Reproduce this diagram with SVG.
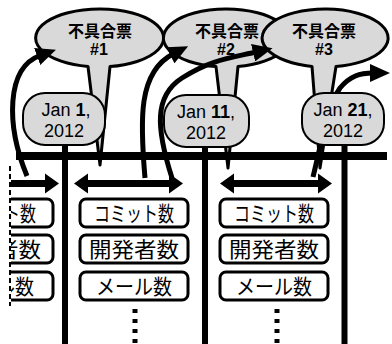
<svg xmlns="http://www.w3.org/2000/svg" width="392" height="344" viewBox="0 0 392 344">
<style>
.callout{fill:#d9d9d9;stroke:#000;stroke-width:3;stroke-linejoin:round}
.date{fill:#d9d9d9;stroke:#000;stroke-width:2}
.box{fill:#fff;stroke:#000;stroke-width:3}
.ct{font-family:"Liberation Sans","Noto Sans CJK JP",sans-serif;font-weight:bold;font-size:16px;text-anchor:middle;fill:#000}
.dt{font-family:"Liberation Sans",Arial,sans-serif;font-size:18px;text-anchor:middle;fill:#000}
.bt{font-family:"Noto Sans CJK JP",sans-serif;font-size:21px;text-anchor:middle;fill:#000}
.curve{fill:none;stroke:#000;stroke-width:5;marker-end:url(#ah)}
.vl{stroke:#000;stroke-width:6}
.dot{stroke:#000;stroke-width:5;stroke-dasharray:4 6}
</style>
<defs>
<marker id="ah" viewBox="0 0 20 18" refX="3" refY="9" markerWidth="20" markerHeight="18" orient="auto" markerUnits="userSpaceOnUse"><path d="M0,0 L20,9 L0,18 Z" fill="#000"/></marker>
<clipPath id="leftclip"><rect x="11" y="0" width="60" height="344"/></clipPath>
</defs>

<g id="ticket1">
<path class="callout" d="M88,66.5 A64,29 0 1 1 110,66.6 L100,165 Z"/>
<text class="ct" x="100" y="37">不具合票</text>
<text class="ct" x="99" y="55">#1</text>
</g>
<g id="ticket2">
<path class="callout" d="M216,66.6 A63,29 0 1 1 238,66.5 L228,168 Z"/>
<text class="ct" x="227" y="37">不具合票</text>
<text class="ct" x="226" y="55">#2</text>
</g>
<g id="ticket3">
<path class="callout" d="M312,66.4 A63,29 0 1 1 336,66.6 L320,168 Z"/>
<text class="ct" x="324" y="37">不具合票</text>
<text class="ct" x="324" y="55">#3</text>
</g>

<g id="connectors">
<rect x="16" y="152" width="371" height="8" fill="#000"/>
<line class="vl" x1="65" y1="140" x2="65" y2="344"/>
<line class="vl" x1="205" y1="140" x2="205" y2="344"/>
<line class="vl" x1="344.5" y1="140" x2="344.5" y2="344"/>
<line class="dot" x1="135" y1="309" x2="135" y2="344"/>
<line class="dot" x1="277" y1="309" x2="277" y2="344"/>
<path class="curve" d="M27,176 C6,125 6,68 40,55.5"/>
<path class="curve" d="M145,178 C140,120 138,72 173,54"/>
<path class="curve" d="M172,178 C156,128 154,96 182,78 S230,58 256,52"/>
<path class="curve" d="M313,177 C322,140 328,105 340,88 C350,76 360,73 373,73"/>
<path d="M74,183.5 L88,173.5 L88,180 L169,180 L169,173.5 L183,183.5 L169,193.5 L169,187 L88,187 L88,193.5 Z" fill="#000"/>
<path d="M220,183.5 L234,173.5 L234,180 L318,180 L318,173.5 L332,183.5 L318,193.5 L318,187 L234,187 L234,193.5 Z" fill="#000"/>
<g clip-path="url(#leftclip)">
<path d="M5,180 L45,180 L45,173.5 L59,183.5 L45,193.5 L45,187 L5,187 Z" fill="#000"/>
</g>
<line x1="10" y1="166" x2="10" y2="306" stroke="#000" stroke-width="2" stroke-dasharray="5 3"/>
</g>

<g id="date1">
<rect class="date" x="23" y="93" width="82" height="52" rx="22"/>
<text class="dt" x="66" y="116">Jan <tspan font-weight="bold">1</tspan>,</text>
<text class="dt" x="64" y="137">2012</text>
</g>
<g id="date2">
<rect class="date" x="164" y="95" width="85" height="52" rx="22"/>
<text class="dt" x="206" y="118">Jan <tspan font-weight="bold">11</tspan>,</text>
<text class="dt" x="206" y="139">2012</text>
</g>
<g id="date3">
<rect class="date" x="302" y="93" width="82" height="52" rx="22"/>
<text class="dt" x="343" y="116">Jan <tspan font-weight="bold">21</tspan>,</text>
<text class="dt" x="343" y="137">2012</text>
</g>

<g id="metrics0" clip-path="url(#leftclip)">
<rect class="box" x="-55" y="199" width="108" height="28" rx="6"/>
<text class="bt" x="-4" y="221" textLength="80" lengthAdjust="spacingAndGlyphs">コミット数</text>
<rect class="box" x="-55" y="235" width="108" height="28" rx="6"/>
<text class="bt" x="-4" y="257" textLength="90" lengthAdjust="spacingAndGlyphs">開発者数</text>
<rect class="box" x="-55" y="272" width="108" height="28" rx="6"/>
<text class="bt" x="-4" y="294" textLength="76" lengthAdjust="spacingAndGlyphs">メール数</text>
</g>
<g id="metrics1">
<rect class="box" x="80" y="199" width="108" height="28" rx="6"/>
<text class="bt" x="134" y="221" textLength="80" lengthAdjust="spacingAndGlyphs">コミット数</text>
<rect class="box" x="80" y="235" width="108" height="28" rx="6"/>
<text class="bt" x="134" y="257" textLength="90" lengthAdjust="spacingAndGlyphs">開発者数</text>
<rect class="box" x="80" y="272" width="108" height="28" rx="6"/>
<text class="bt" x="134" y="294" textLength="76" lengthAdjust="spacingAndGlyphs">メール数</text>
</g>
<g id="metrics2">
<rect class="box" x="220" y="199" width="108" height="28" rx="6"/>
<text class="bt" x="274" y="221" textLength="80" lengthAdjust="spacingAndGlyphs">コミット数</text>
<rect class="box" x="220" y="235" width="108" height="28" rx="6"/>
<text class="bt" x="274" y="257" textLength="90" lengthAdjust="spacingAndGlyphs">開発者数</text>
<rect class="box" x="220" y="272" width="108" height="28" rx="6"/>
<text class="bt" x="274" y="294" textLength="76" lengthAdjust="spacingAndGlyphs">メール数</text>
</g>
</svg>
